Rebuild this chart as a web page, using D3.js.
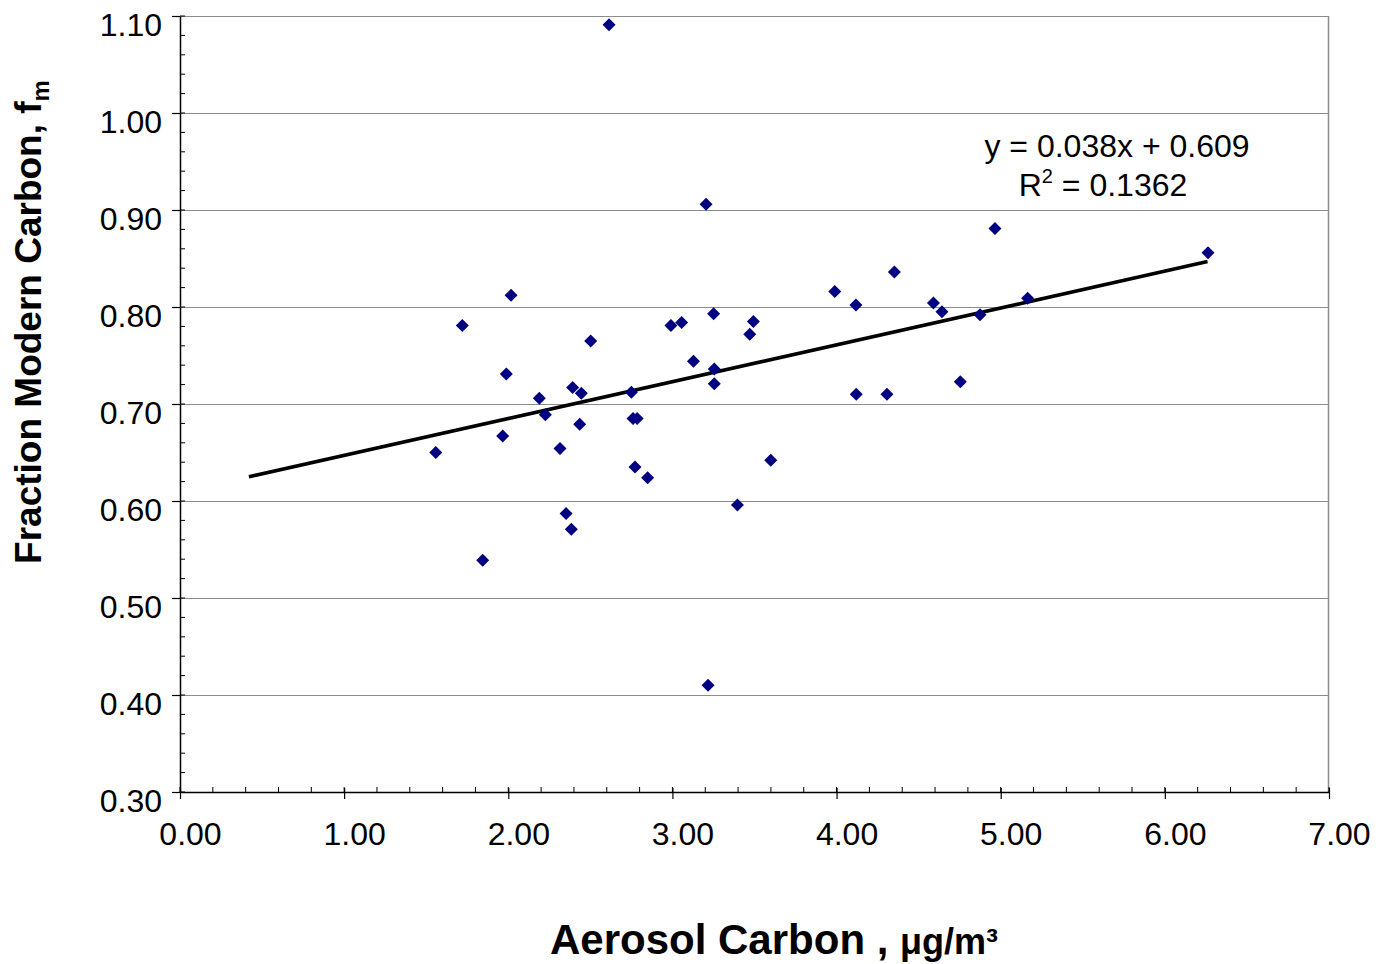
<!DOCTYPE html>
<html>
<head>
<meta charset="utf-8">
<script src="https://cdn.jsdelivr.net/npm/d3@7"></script>
<style>
  html, body { margin: 0; padding: 0; background: #fff; }
  svg { display: block; font-family: "Liberation Sans", Arial, sans-serif; }
</style>
</head>
<body>
<svg id="chart" width="1376" height="964"></svg>
<script>
// ---- data ----
const aerosolCarbon = [1.558, 1.720, 1.844, 1.966, 1.988, 2.017, 2.189, 2.226, 2.315, 2.352,
  2.384, 2.392, 2.435, 2.445, 2.502, 2.614, 2.750, 2.760, 2.785, 2.772,
  2.849, 2.991, 3.056, 3.128, 3.205, 3.217, 3.251, 3.255, 3.255, 3.396,
  3.471, 3.493, 3.599, 3.989, 4.118, 4.120, 4.307, 4.352, 4.590, 4.642,
  4.754, 4.874, 4.965, 5.164, 6.263];
const fractionModern = [0.650, 0.781, 0.539, 0.667, 0.731, 0.812, 0.706, 0.689, 0.654, 0.587,
  0.571, 0.717, 0.679, 0.711, 0.765, 1.091, 0.712, 0.685, 0.685, 0.635,
  0.624, 0.781, 0.784, 0.744, 0.906, 0.410, 0.793, 0.736, 0.721, 0.596,
  0.772, 0.785, 0.642, 0.816, 0.802, 0.710, 0.710, 0.836, 0.804, 0.795,
  0.723, 0.792, 0.881, 0.809, 0.856];
const xTicks = [0, 1, 2, 3, 4, 5, 6, 7];
const yTicks = [0.30, 0.40, 0.50, 0.60, 0.70, 0.80, 0.90, 1.00, 1.10];
const trendSlope = 0.038;
const trendIntercept = 0.609;
const trendRange = [0.42, 6.26];
const equationText = "y = 0.038x + 0.609";
const r2Value = "0.1362";

// ---- layout ----
const svg = d3.select("#chart");
const x = d3.scaleLinear().domain([0, 7]).range([180, 1329]);
const y = d3.scaleLinear().domain([0.3, 1.1]).range([792, 16]);
const FONT = "'Liberation Sans', Arial, sans-serif";

// gridlines
svg.append("g").selectAll("line").data(yTicks.filter(d => d > 0.3)).join("line")
  .attr("x1", x(0)).attr("x2", x(7))
  .attr("y1", d => Math.round(y(d)) + 0.5).attr("y2", d => Math.round(y(d)) + 0.5)
  .attr("stroke", "#8c8c8c").attr("stroke-width", 1);
// right border
svg.append("line")
  .attr("x1", Math.round(x(7)) - 0.5).attr("x2", Math.round(x(7)) - 0.5)
  .attr("y1", y(1.1)).attr("y2", y(0.3))
  .attr("stroke", "#8c8c8c").attr("stroke-width", 1.5);

// minor ticks
const yMinor = d3.range(0, 41).map(i => 0.3 + i * 0.02);
svg.append("g").selectAll("line").data(yMinor).join("line")
  .attr("x1", x(0)).attr("x2", x(0) + 5)
  .attr("y1", d => y(d)).attr("y2", d => y(d))
  .attr("stroke", "#000").attr("stroke-width", 1);
const xMinor = d3.range(0, 36).map(i => i * 0.2);
svg.append("g").selectAll("line").data(xMinor).join("line")
  .attr("x1", d => x(d)).attr("x2", d => x(d))
  .attr("y1", y(0.3)).attr("y2", y(0.3) - 5)
  .attr("stroke", "#000").attr("stroke-width", 1);

// y axis
const yAxis = svg.append("g").attr("transform", `translate(${x(0)},0)`)
  .call(d3.axisLeft(y).tickValues(yTicks).tickSize(8).tickSizeOuter(0)
    .tickPadding(10).tickFormat(d3.format(".2f")));
yAxis.select(".domain").attr("stroke", "#000").attr("stroke-width", 1.5);
yAxis.selectAll(".tick line").attr("stroke", "#000").attr("stroke-width", 1.2);
yAxis.selectAll(".tick text").attr("font-family", FONT).attr("font-size", 32)
  .attr("fill", "#000").attr("dy", 19);

// x axis
const xAxis = svg.append("g").attr("transform", `translate(0,${y(0.3)})`)
  .call(d3.axisBottom(x).tickValues(xTicks).tickSize(7).tickSizeOuter(0)
    .tickFormat(d3.format(".2f")));
xAxis.select(".domain").attr("stroke", "#000").attr("stroke-width", 1.5);
xAxis.selectAll(".tick line").attr("stroke", "#000").attr("stroke-width", 1.2).attr("y1", -4);
xAxis.selectAll(".tick text").attr("font-family", FONT).attr("font-size", 32)
  .attr("fill", "#000").attr("x", 10).attr("y", 53).attr("dy", 0);

// trend line
svg.append("line")
  .attr("x1", x(trendRange[0])).attr("y1", y(trendIntercept + trendSlope * trendRange[0]))
  .attr("x2", x(trendRange[1])).attr("y2", y(trendIntercept + trendSlope * trendRange[1]))
  .attr("stroke", "#000").attr("stroke-width", 3.6);

// points
const diamond = "M0,-6.5L6.5,0L0,6.5L-6.5,0Z";
svg.append("g").selectAll("path").data(aerosolCarbon.map((d, i) => [d, fractionModern[i]])).join("path")
  .attr("d", diamond)
  .attr("transform", d => `translate(${x(d[0])},${y(d[1])})`)
  .attr("fill", "#000080");

// equation
svg.append("text").attr("x", 1117).attr("y", 157).attr("text-anchor", "middle")
  .attr("font-family", FONT).attr("font-size", 32).text(equationText);
const r2 = svg.append("text").attr("x", 1103).attr("y", 196).attr("text-anchor", "middle")
  .attr("font-family", FONT).attr("font-size", 32);
r2.append("tspan").text("R");
r2.append("tspan").attr("font-size", 20).attr("dy", -13).attr("dx", 0).text("2");
r2.append("tspan").attr("dy", 13).text(" = " + r2Value);

// x title
const xt = svg.append("text").attr("x", 550).attr("y", 954)
  .attr("font-family", FONT).attr("font-weight", "bold").attr("font-size", 42);
xt.append("tspan").text("Aerosol Carbon , ");
xt.append("tspan").attr("font-size", 36).text("μg/m³");

// y title
const yt = svg.append("text").attr("transform", "translate(41,322) rotate(-90)")
  .attr("text-anchor", "middle")
  .attr("font-family", FONT).attr("font-weight", "bold").attr("font-size", 37);
yt.append("tspan").text("Fraction Modern Carbon, f");
yt.append("tspan").attr("font-size", 24).attr("dy", 8).text("m");
</script>
</body>
</html>
